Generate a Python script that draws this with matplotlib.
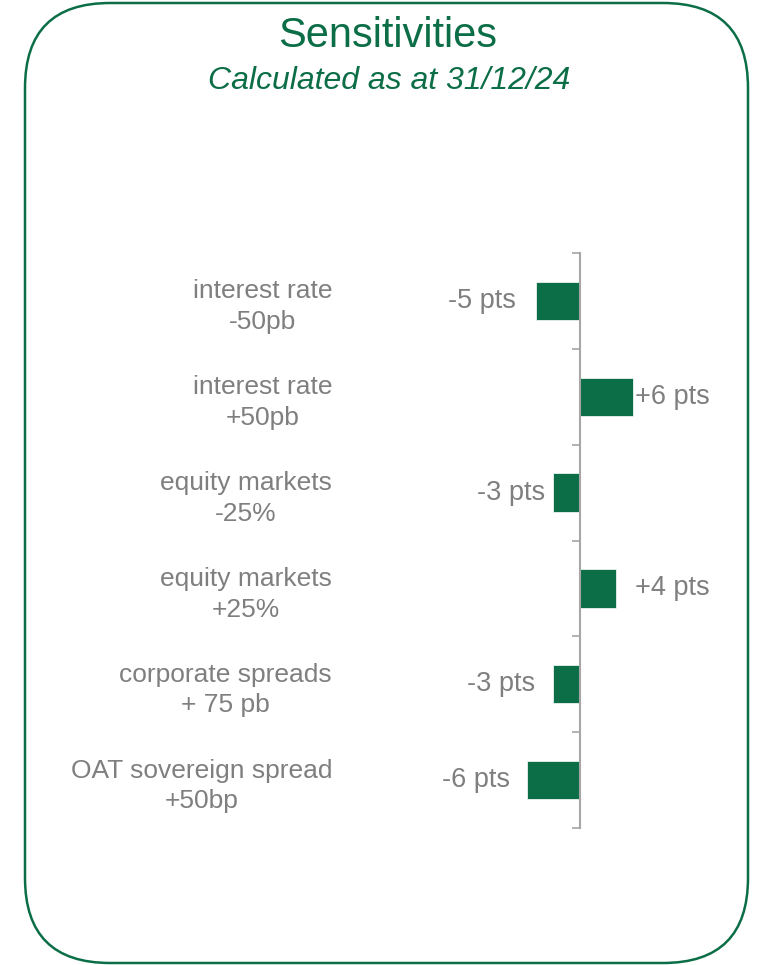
import matplotlib
matplotlib.use("Agg")
import matplotlib.pyplot as plt
from matplotlib.patches import FancyBboxPatch

plt.rcParams['font.family'] = ['Liberation Sans', 'DejaVu Sans']

categories = ["interest rate\n-50pb", "interest rate\n+50pb", "equity markets\n-25%",
              "equity markets\n+25%", "corporate spreads\n+ 75 pb", "OAT sovereign spread\n+50bp"]
values = [-5, 6, -3, 4, -3, -6]
value_labels = ["-5 pts", "+6 pts", "-3 pts", "+4 pts", "-3 pts", "-6 pts"]
title = "Sensitivities"
subtitle = "Calculated as at 31/12/24"

# label gaps from bar end (points), style only
label_gaps_pt = [14, 1, 6, 14, 13, 12]

GREEN = "#0c6e47"
GREY = "#7f7f7f"
AXGREY = "#a6a6a6"

W, H = 773, 965
fig = plt.figure(figsize=(W / 100, H / 100), dpi=100)

# background frame axes in pixel coordinates
bg = fig.add_axes([0, 0, 1, 1])
bg.set_xlim(0, W)
bg.set_ylim(H, 0)
bg.axis("off")
box = FancyBboxPatch((25, 3), 723, 960, boxstyle="round,pad=0,rounding_size=85",
                     fill=False, edgecolor=GREEN, linewidth=1.8)
bg.add_patch(box)
bg.text(388, 36, title, color=GREEN, fontsize=30, ha="center", va="center")
bg.text(389, 81, subtitle, color=GREEN, fontsize=23, style="italic", ha="center", va="center")

# bar chart axes
xmin, xmax = -20, 15
pxu = 8.9
left_px = 580 - (0 - xmin) * pxu
width_px = (xmax - xmin) * pxu
top_px, bot_px = 253, 828
ax = fig.add_axes([left_px / W, (H - bot_px) / H, width_px / W, (bot_px - top_px) / H])
ax.patch.set_alpha(0)
n = len(categories)
ypos = list(range(n))
ax.barh(ypos, values, height=0.4, color=GREEN, edgecolor="white", linewidth=0.5)
ax.set_xlim(xmin, xmax)
ax.set_ylim(n - 0.5, -0.5)

for s in ["top", "right", "bottom"]:
    ax.spines[s].set_visible(False)
ax.spines["left"].set_position(("data", 0))
ax.spines["left"].set_color(AXGREY)
ax.spines["left"].set_linewidth(1.5)
ax.set_xticks([])

ax.set_yticks([i - 0.5 for i in range(n + 1)])
ax.set_yticklabels([])
ax.tick_params(axis="y", which="major", length=6, width=1.2, color=AXGREY, direction="out")
ax.set_yticks(ypos, minor=True)
ax.set_yticklabels(categories, minor=True, fontsize=19, color=GREY,
                   multialignment="center", linespacing=1.35)
ax.tick_params(axis="y", which="minor", length=0, pad=(580 - 332) * 0.72)

for i, (v, lab, g) in enumerate(zip(values, value_labels, label_gaps_pt)):
    if v < 0:
        ax.annotate(lab, (v, i), xytext=(-g, 0), textcoords="offset points",
                    ha="right", va="center", fontsize=19.5, color=GREY)
    else:
        ax.annotate(lab, (v, i), xytext=(g, 0), textcoords="offset points",
                    ha="left", va="center", fontsize=19.5, color=GREY)

fig.savefig("out.png", dpi=100)
